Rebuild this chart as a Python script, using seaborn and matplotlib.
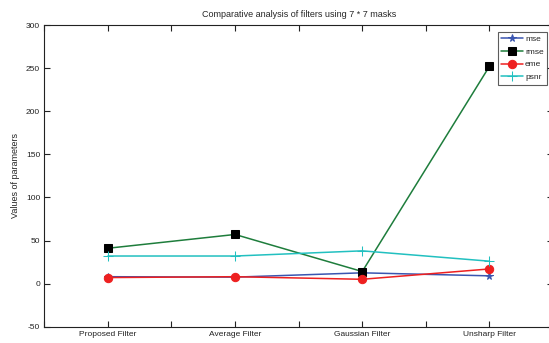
import matplotlib
matplotlib.use("Agg")
import matplotlib.pyplot as plt
import seaborn as sns
import pandas as pd

filters = ["Proposed Filter", "Average Filter", "Gaussian Filter", "Unsharp Filter"]
mse = [8, 7.5, 12.5, 9]
rmse = [41, 57, 14, 252]
eme = [7, 8, 5, 17]
psnr = [32, 32, 38, 26]

series_names = ["mse", "rmse", "eme", "psnr"]
series_vals = [mse, rmse, eme, psnr]

sns.set_style("ticks")
plt.rcParams["font.family"] = ["Liberation Sans", "DejaVu Sans"]
plt.rcParams["axes.unicode_minus"] = False

fig = plt.figure(figsize=(5.49, 3.43), dpi=100)
ax = fig.add_axes([44.3 / 549, 16.3 / 343, (553 - 44.3) / 549, 301.7 / 343])

styles = {
    "mse": dict(color="#3a55b0", marker="*", markersize=5.5, mfc="#3a55b0", mec="#3a55b0"),
    "rmse": dict(color="#1e7d3c", marker="s", markersize=5.5, mfc="black", mec="black"),
    "eme": dict(color="#ee2020", marker="o", markersize=6, mfc="#ee2020", mec="#ee2020"),
    "psnr": dict(color="#22c0c0", marker="+", markersize=7, mfc="#22c0c0", mec="#22c0c0"),
}

for name, vals in zip(series_names, series_vals):
    df = pd.DataFrame({"filter": filters, "value": vals})
    st = styles[name]
    sns.lineplot(data=df, x="filter", y="value", ax=ax, color=st["color"],
                 marker=st["marker"], markersize=st["markersize"],
                 markerfacecolor=st["mfc"], markeredgecolor=st["mec"],
                 linewidth=1.1, label=name, sort=False)

ax.set_xlim(-0.5, 3.5)
ax.set_ylim(-50, 300)
ax.set_yticks(range(-50, 301, 50))
ax.set_xticks([-0.5, 0, 0.5, 1, 1.5, 2, 2.5, 3, 3.5])
ax.set_xticklabels(["", filters[0], "", filters[1], "", filters[2], "", filters[3], ""])
ax.tick_params(direction="in", length=4, width=0.8, labelsize=6, colors="#222222",
               top=True, right=True, pad=3)
for s in ax.spines.values():
    s.set_visible(True)
    s.set_linewidth(0.8)
    s.set_color("#222222")

ax.set_xlabel("")
ax.set_ylabel("Values of parameters", fontsize=6.5)
ax.yaxis.set_label_coords(-0.047, 0.5)
ax.set_title("Comparative analysis of filters using 7 * 7 masks", fontsize=6.5, pad=6)

leg = ax.legend(loc="upper left", bbox_to_anchor=(0.891, 0.978), fontsize=6,
                frameon=True, fancybox=False, edgecolor="#333333",
                handlelength=2.6, borderpad=0.4, labelspacing=0.6, handletextpad=0.3,
                borderaxespad=0)
leg.get_frame().set_linewidth(0.8)

fig.savefig("out.png", dpi=100)
